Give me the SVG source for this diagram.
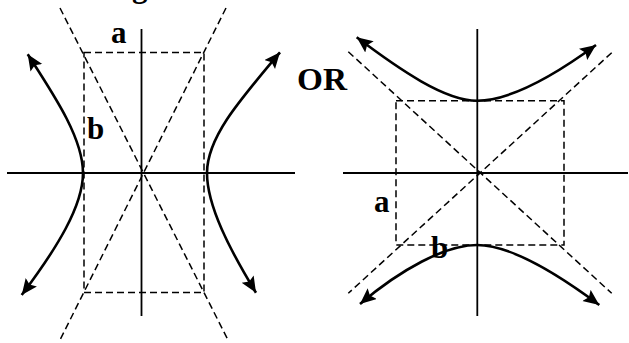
<svg xmlns="http://www.w3.org/2000/svg" width="629" height="343" viewBox="0 0 629 343">
  <style>
    .axis { stroke: #000; stroke-width: 1.8; fill: none; }
    .dash { stroke: #000; stroke-width: 1.5; fill: none; stroke-dasharray: 7 4; }
    .curve { stroke: #000; stroke-width: 2.6; fill: none; marker-start: url(#arr); marker-end: url(#arr); }
    .lbl { font-family: "Liberation Serif", "Times New Roman", serif; font-weight: bold; font-size: 31px; fill: #000; }
  </style>
  <defs>
    <marker id="arr" markerUnits="userSpaceOnUse" markerWidth="18" markerHeight="16" refX="16" refY="7" orient="auto-start-reverse">
      <path d="M0,0 L16,7 L0,14 L3,7 z" fill="#000"/>
    </marker>
  </defs>
  <rect width="629" height="343" fill="#fff"/>

  <text class="lbl" x="132" y="-3">g</text>

  <g id="left-graph">
    <g id="left-axes">
      <line class="axis" x1="141.5" y1="29" x2="141.5" y2="316"/>
      <line class="axis" x1="7" y1="173" x2="295" y2="173"/>
    </g>
    <g id="left-box">
      <rect class="dash" x="84" y="52.5" width="120" height="240"/>
    </g>
    <g id="left-asymptotes">
      <line class="dash" x1="60" y1="8" x2="228" y2="340"/>
      <line class="dash" x1="226" y1="8" x2="60" y2="340"/>
    </g>
    <g id="left-branches">
      <path class="curve" d="M27.7,54.3 C54,95 83,138 83,173 C83,206 57,248 21.7,295"/>
      <path class="curve" d="M280,52.3 C238,102 207,138 207,173 C207,206 230,250 256,292.7"/>
    </g>
    <text class="lbl" x="111" y="43">a</text>
    <text class="lbl" x="87" y="139">b</text>
  </g>

  <text id="or-label" class="lbl" x="297" y="90" textLength="50" lengthAdjust="spacingAndGlyphs">OR</text>

  <g id="right-graph">
    <g id="right-axes">
      <line class="axis" x1="477.3" y1="29" x2="477.3" y2="316"/>
      <line class="axis" x1="343" y1="173" x2="628" y2="173"/>
    </g>
    <g id="right-box">
      <rect class="dash" x="396" y="100.7" width="168" height="144.3"/>
    </g>
    <g id="right-asymptotes">
      <line class="dash" x1="348.3" y1="51.7" x2="611.7" y2="293.3"/>
      <line class="dash" x1="611.7" y1="52.7" x2="348.3" y2="293.3"/>
    </g>
    <g id="right-branches">
      <path class="curve" d="M356.7,37.3 C400,70 445,100.7 477,100.7 C510,100.7 555,75 596,45"/>
      <path class="curve" d="M360,304 C400,270 445,245 477,245 C510,245 555,272 599.3,305"/>
    </g>
    <text class="lbl" x="374" y="212">a</text>
    <text class="lbl" x="431" y="258">b</text>
  </g>
</svg>
